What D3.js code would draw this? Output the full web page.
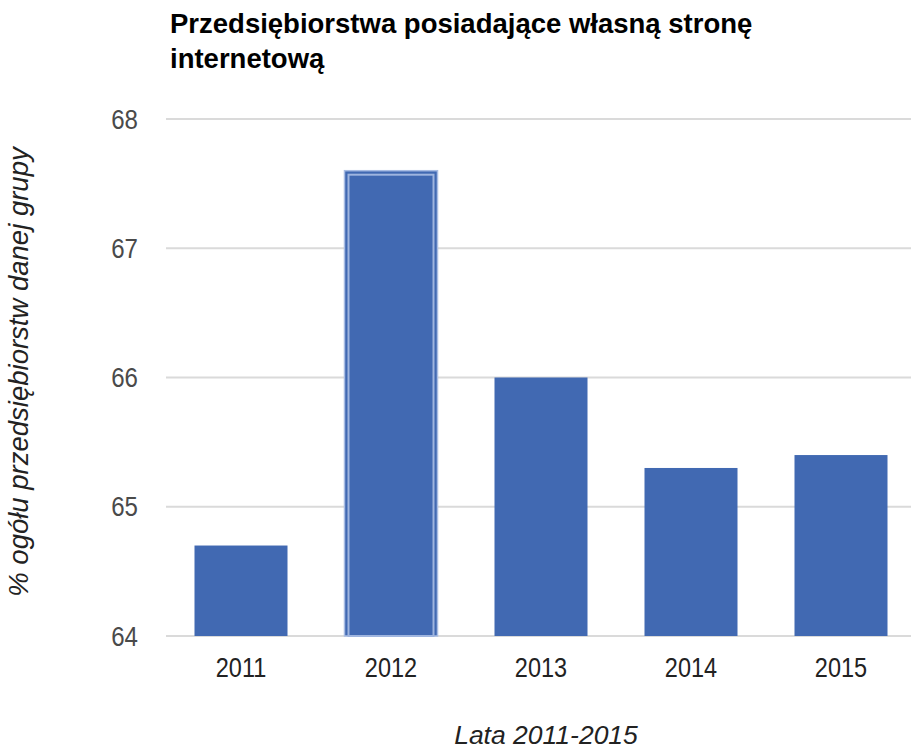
<!DOCTYPE html>
<html>
<head>
<meta charset="utf-8">
<script src="https://cdn.jsdelivr.net/npm/d3@7"></script>
<style>
  body { margin: 0; background: #fff; }
  text { font-family: Arial, "Liberation Sans", sans-serif; }
</style>
</head>
<body>
<div id="chart"></div>
<script>
// data
const years = ["2011", "2012", "2013", "2014", "2015"];
const values = [64.7, 67.6, 66.0, 65.3, 65.4];
const yTicks = [64, 65, 66, 67, 68];
const highlighted = "2012";

const W = 911, H = 750;

const svg = d3.select("#chart")
  .append("svg")
  .attr("width", W)
  .attr("height", H);

const x = d3.scaleBand().domain(years).range([166, 916])
  .paddingInner(0.38).paddingOuter(0.19);
const y = d3.scaleLinear().domain([64, 68]).range([636, 119]);

// title
svg.append("text")
  .attr("x", 170).attr("y", 33)
  .attr("font-size", 27.5).attr("font-weight", "bold").attr("fill", "#000")
  .text("Przedsiębiorstwa posiadające własną stronę");
svg.append("text")
  .attr("x", 170).attr("y", 68)
  .attr("font-size", 27.5).attr("font-weight", "bold").attr("fill", "#000")
  .text("internetową");

// grid lines
svg.append("g")
  .selectAll("line")
  .data(yTicks)
  .join("line")
  .attr("x1", 166).attr("x2", W)
  .attr("y1", d => y(d)).attr("y2", d => y(d))
  .attr("stroke", "#dadada").attr("stroke-width", 2);

// y axis labels
const yAxis = svg.append("g")
  .attr("transform", "translate(138,0)")
  .call(d3.axisLeft(y).tickValues(yTicks).tickSize(0).tickPadding(0).tickFormat(d3.format("d")));
yAxis.select(".domain").remove();
yAxis.selectAll("text")
  .attr("font-size", 28).attr("fill", "#4a4a4a")
  .attr("dy", "0.33em")
  .attr("transform", "scale(0.86,1)")
  .attr("font-family", "Arial, 'Liberation Sans', sans-serif");

// bars
svg.append("g")
  .selectAll("rect")
  .data(years.map((d, i) => ({ year: d, value: values[i] })))
  .join("rect")
  .attr("x", d => x(d.year))
  .attr("y", d => y(d.value))
  .attr("width", x.bandwidth())
  .attr("height", d => y(64) - y(d.value))
  .attr("fill", "#4169b2")
  .attr("stroke", d => d.year === highlighted ? "#a9bde3" : "none")
  .attr("stroke-width", 1.5);

// highlight inner stroke on the hovered bar
const hv = values[years.indexOf(highlighted)];
svg.append("rect")
  .attr("x", x(highlighted) + 4)
  .attr("y", y(hv) + 4)
  .attr("width", x.bandwidth() - 8)
  .attr("height", y(64) - y(hv) - 4)
  .attr("fill", "none")
  .attr("stroke", "#9fb5df")
  .attr("stroke-width", 2);

// x axis labels
const xAxis = svg.append("g")
  .attr("transform", "translate(0,677)")
  .call(d3.axisBottom(x).tickSize(0).tickPadding(0));
xAxis.select(".domain").remove();
xAxis.selectAll("text")
  .attr("font-size", 28).attr("fill", "#222")
  .attr("y", 0).attr("dy", 0)
  .attr("transform", "scale(0.84,1)")
  .attr("font-family", "Arial, 'Liberation Sans', sans-serif");

// axis titles
svg.append("text")
  .attr("x", 546).attr("y", 744)
  .attr("text-anchor", "middle")
  .attr("font-size", 26.5).attr("font-style", "italic").attr("fill", "#222")
  .text("Lata 2011-2015");

svg.append("text")
  .attr("transform", "translate(28,372) rotate(-90)")
  .attr("text-anchor", "middle")
  .attr("font-size", 27.5).attr("font-style", "italic").attr("fill", "#222")
  .text("% ogółu przedsiębiorstw danej grupy");
</script>
</body>
</html>
